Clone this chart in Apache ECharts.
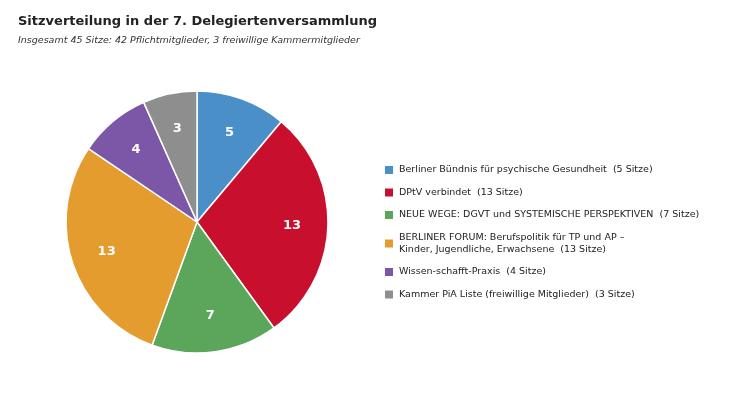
<!DOCTYPE html>
<html>
<head>
<meta charset="utf-8">
<script src="https://cdn.jsdelivr.net/npm/echarts@6/dist/echarts.min.js"></script>
<style>html,body{margin:0;padding:0;background:#fff}#main{width:744px;height:401px}</style>
</head>
<body>
<div id="main"></div>
<script>
// Sitzverteilung
var names = [
    'Berliner Bündnis für psychische Gesundheit  (5 Sitze)',
    'DPtV verbindet  (13 Sitze)',
    'NEUE WEGE: DGVT und SYSTEMISCHE PERSPEKTIVEN  (7 Sitze)',
    'BERLINER FORUM: Berufspolitik für TP und AP –\nKinder, Jugendliche, Erwachsene  (13 Sitze)',
    'Wissen-schafft-Praxis  (4 Sitze)',
    'Kammer PiA Liste (freiwillige Mitglieder)  (3 Sitze)'
];
var seats = [5, 13, 7, 13, 4, 3];
var colors = ['#4a8fc7', '#c8102e', '#5ba65a', '#e49c2f', '#7d57a7', '#8e8e8e'];

var data = [];
for (var i = 0; i < seats.length; i++) {
    data.push({name: names[i], value: seats[i], itemStyle: {color: colors[i]}});
}

var chart = echarts.init(document.getElementById('main'));
chart.setOption({
    animation: false,
    textStyle: {fontFamily: 'DejaVu Sans'},
    title: {
        text: 'Sitzverteilung in der 7. Delegiertenversammlung',
        subtext: 'Insgesamt 45 Sitze: 42 Pflichtmitglieder, 3 freiwillige Kammermitglieder',
        left: 13, top: 10, itemGap: 8,
        textStyle: {fontSize: 13, fontWeight: 'bold', color: '#222', fontFamily: 'DejaVu Sans'},
        subtextStyle: {fontSize: 9.5, fontStyle: 'italic', color: '#333', fontFamily: 'DejaVu Sans'}
    },
    legend: {
        orient: 'vertical',
        left: 378, top: 159,
        itemWidth: 10, itemHeight: 10, itemGap: 10.5,
        icon: 'rect',
        data: names,
        textStyle: {fontSize: 9.5, color: '#222', lineHeight: 12, fontFamily: 'DejaVu Sans'}
    },
    series: [{
        type: 'pie',
        center: [197, 222],
        radius: [0, 131],
        startAngle: 90,
        clockwise: true,
        data: data,
        label: {show: false},
        labelLine: {show: false},
        itemStyle: {borderColor: '#fff', borderWidth: 1.5},
        emphasis: {disabled: true}
    }, {
        type: 'pie',
        center: [197, 222],
        radius: [53, 131],
        startAngle: 90,
        clockwise: true,
        silent: true,
        data: data.map(function (d) { return {name: d.name, value: d.value, itemStyle: {color: 'rgba(0,0,0,0)'}}; }),
        label: {show: true, position: 'inside', formatter: '{c}', color: '#fff', fontWeight: 'bold', fontSize: 13},
        labelLine: {show: false},
        emphasis: {disabled: true}
    }]
});
</script>
</body>
</html>
